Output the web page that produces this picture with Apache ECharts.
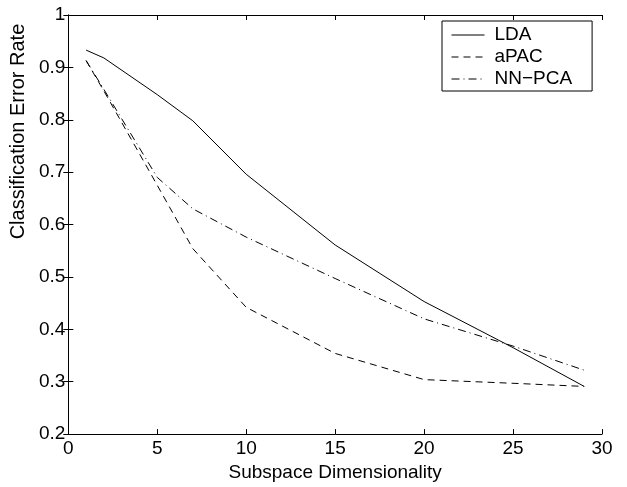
<!DOCTYPE html>
<html>
<head>
<meta charset="utf-8">
<script src="https://cdn.jsdelivr.net/npm/echarts@6/dist/echarts.min.js"></script>
<style>
html,body{margin:0;padding:0;background:#fff;}
#chart{width:627px;height:487px;}
</style>
</head>
<body>
<div id="chart"></div>
<script>
const xValues = [1, 2, 5, 7, 10, 15, 20, 25, 29];
const ldaValues = [0.933, 0.918, 0.848, 0.798, 0.696, 0.561, 0.453, 0.365, 0.291];
const apacValues = [0.913, 0.855, 0.675, 0.554, 0.442, 0.354, 0.304, 0.297, 0.291];
const nnpcaValues = [0.913, 0.858, 0.69, 0.63, 0.576, 0.497, 0.42, 0.368, 0.322];
const seriesNames = ['LDA', 'aPAC', 'NN\u2212PCA'];
const xTicks = {min: 0, max: 30, interval: 5};
const yTicks = {min: 0.2, max: 1, interval: 0.1};

const font = 'Liberation Sans, Arial, Helvetica, sans-serif';
const pair = (vals) => xValues.map((x, i) => [x, vals[i]]);

const chart = echarts.init(document.getElementById('chart'), null, {renderer: 'canvas'});

const axisCommon = {
  type: 'value',
  axisLine: {show: true, lineStyle: {color: '#000', width: 1}},
  axisTick: {show: true, inside: true, length: 5, lineStyle: {color: '#000', width: 1}},
  splitLine: {show: false}
};

chart.setOption({
  animation: false,
  backgroundColor: '#fff',
  grid: {left: 63, right: 25, top: 15, bottom: 47, containLabel: false},
  legend: {
    orient: 'vertical',
    left: 442,
    top: 21,
    padding: [3, 20, 1, 9],
    itemGap: 0,
    itemWidth: 33,
    itemHeight: 22,
    itemStyle: {opacity: 0},
    lineStyle: {width: 1},
    borderColor: '#000',
    borderWidth: 1,
    backgroundColor: '#fff',
    textStyle: {fontFamily: font, fontSize: 19, color: '#000', lineHeight: 22, padding: [0, 0, 0, 5]},
    data: seriesNames
  },
  xAxis: [
    Object.assign({}, axisCommon, {
      position: 'bottom',
      min: xTicks.min, max: xTicks.max, interval: xTicks.interval,
      axisLabel: {fontFamily: font, fontSize: 19, color: '#000', margin: 5},
      name: 'Subspace Dimensionality',
      nameLocation: 'middle',
      nameGap: 18,
      nameTextStyle: {fontFamily: font, fontSize: 19, color: '#000'}
    }),
    Object.assign({}, axisCommon, {
      position: 'top',
      min: xTicks.min, max: xTicks.max, interval: xTicks.interval,
      axisLabel: {show: false}
    })
  ],
  yAxis: [
    Object.assign({}, axisCommon, {
      position: 'left',
      min: yTicks.min, max: yTicks.max, interval: yTicks.interval,
      axisLabel: {fontFamily: font, fontSize: 19, color: '#000', margin: 3,
        formatter: v => String(Math.round(v * 10) / 10)},
      name: 'Classification Error Rate',
      nameLocation: 'middle',
      nameGap: 24,
      nameTextStyle: {fontFamily: font, fontSize: 20, color: '#000', padding: [0, 0, 0, 186]}
    }),
    Object.assign({}, axisCommon, {
      position: 'right',
      min: yTicks.min, max: yTicks.max, interval: yTicks.interval,
      axisLabel: {show: false}
    })
  ],
  series: [
    {name: seriesNames[0], type: 'line', data: pair(ldaValues), symbol: 'none',
     lineStyle: {color: '#000', width: 1, type: 'solid'}, itemStyle: {color: '#000'}},
    {name: seriesNames[1], type: 'line', data: pair(apacValues), symbol: 'none',
     lineStyle: {color: '#000', width: 1, type: [7, 5]}, itemStyle: {color: '#000'}},
    {name: seriesNames[2], type: 'line', data: pair(nnpcaValues), symbol: 'none',
     lineStyle: {color: '#000', width: 1, type: [8, 4, 1, 4]}, itemStyle: {color: '#000'}}
  ]
});
</script>
</body>
</html>
